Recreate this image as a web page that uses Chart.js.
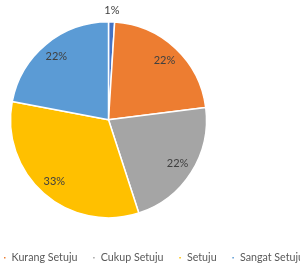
<!DOCTYPE html>
<html>
<head>
<meta charset="utf-8">
<script src="https://cdn.jsdelivr.net/npm/chart.js@4"></script>
<style>
  html, body { margin: 0; padding: 0; background: #ffffff; overflow: hidden; }
  #wrap { position: relative; width: 300px; height: 271px; overflow: hidden; }
  #c { position: absolute; left: -102px; top: 0; }
</style>
</head>
<body>
<div id="wrap"><canvas id="c" width="421" height="273"></canvas></div>
<script>
const categories = ["Tidak Setuju", "Kurang Setuju", "Cukup Setuju", "Setuju", "Sangat Setuju"];
const values = [1, 22, 22, 33, 22];
const colors = ["#4472C4", "#ED7D31", "#A5A5A5", "#FFC000", "#5B9BD5"];

const labelPlugin = {
  id: 'pctLabels',
  afterDatasetsDraw(chart) {
    const ctx = chart.ctx;
    const meta = chart.getDatasetMeta(0);
    const total = values.reduce((a, b) => a + b, 0);
    ctx.save();
    ctx.font = '11px Lato, "Open Sans", sans-serif';
    ctx.fillStyle = '#404040';
    ctx.textAlign = 'center';
    ctx.textBaseline = 'middle';
    meta.data.forEach((arc, i) => {
      const p = arc.getProps(['x', 'y', 'startAngle', 'endAngle', 'outerRadius'], true);
      const mid = (p.startAngle + p.endAngle) / 2;
      const pct = Math.round(values[i] / total * 100);
      const r = pct < 5 ? p.outerRadius + 11 : p.outerRadius * 0.835;
      ctx.fillText(pct + '%', p.x + Math.cos(mid) * r, p.y + Math.sin(mid) * r);
    });
    ctx.restore();
  }
};

new Chart(document.getElementById('c'), {
  type: 'pie',
  data: {
    labels: categories,
    datasets: [{
      data: values,
      backgroundColor: colors,
      borderColor: '#ffffff',
      borderWidth: 1.5,
      radius: 98
    }]
  },
  options: {
    responsive: false,
    animation: false,
    layout: { padding: { top: 2.4, bottom: 0, left: 0, right: 0 } },
    plugins: {
      tooltip: { enabled: false },
      legend: {
        position: 'bottom',
        align: 'end',
        labels: {
          boxWidth: 3,
          boxHeight: 3,
          padding: 15,
          color: '#595959',
          font: { family: 'Lato, "Open Sans", sans-serif', size: 10.7 }
        }
      }
    }
  },
  plugins: [labelPlugin]
});
</script>
</body>
</html>
